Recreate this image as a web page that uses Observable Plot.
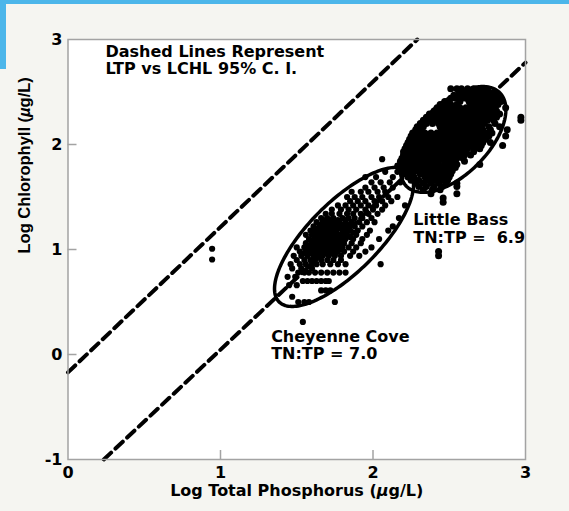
<!DOCTYPE html>
<html><head><meta charset="utf-8">
<script src="https://cdn.jsdelivr.net/npm/d3@7"></script>
<script src="https://cdn.jsdelivr.net/npm/@observablehq/plot@0.6"></script>
<style>
html,body{margin:0;padding:0;background:#f5f5f1;}
body{width:569px;height:511px;position:relative;overflow:hidden;}
#bt{position:absolute;left:0;top:0;width:569px;height:4px;background:#4cb6ea;}
#bl{position:absolute;left:0;top:0;width:6px;height:69px;background:#4cb6ea;}
#chart{position:absolute;left:0;top:0;}
#chart svg text{white-space:pre;}
</style></head><body>
<div id="chart"></div><div id="bt"></div><div id="bl"></div>
<script>
// ---- axis ticks / labels ----
const xTickMarks = [1, 2];
const xTickLabels = [0, 1, 2, 3];
const yTickMarks = [0, 1, 2];
const yTickLabels = [-1, 0, 1, 2, 3];
const xTitle = "Log Total Phosphorus (µg/L)";
const yTitle = "Log Chlorophyll (µg/L)";

// ---- 95% C.I. dashed lines (end points) ----
const ciUpperX = [0, 2.29];
const ciUpperY = [-0.17, 3.0];
const ciLowerX = [0.235, 3.0];
const ciLowerY = [-1.0, 2.78];

// ---- ellipses: center, semi-major and semi-minor vectors (data units) ----
const ellipseNames = ["Cheyenne Cove", "Little Bass"];
const ellipseCx = [1.81, 2.525];
const ellipseCy = [1.12, 2.048];
const ellipseAx = [0.426, 0.306];
const ellipseAy = [0.619, 0.445];
const ellipseBx = [0.162, 0.162];
const ellipseBy = [-0.236, -0.236];

// ---- annotations ----
const noteText = ["Dashed Lines Represent\nLTP vs LCHL 95% C. I.", "Little Bass\nTN:TP =  6.9", "Cheyenne Cove\nTN:TP = 7.0"];
const noteX = [0.246, 2.264, 1.332];
const noteY = [2.959, 1.350, 0.245];

// ---- scatter: isolated points ----
const otherPts = [[0.945, 1.007], [0.945, 0.905]];

// ---- Cheyenne Cove points, rows of [logChl, [logTP...]] ----
const cheyenneRows = [
  [0.31, [1.54]],
  [0.50, [1.51, 1.55, 1.58, 1.75]],
  [0.55, [1.47]],
  [0.61, [1.66, 1.69, 1.72]],
  [0.66, [1.45, 1.50]],
  [0.70, [1.54, 1.57, 1.60, 1.63, 1.66, 1.69, 1.71]],
  [0.74, [1.44, 1.49]],
  [0.78, [1.51, 1.55, 1.58, 1.62, 1.66, 1.70, 1.74, 1.78, 1.82]],
  [0.82, [1.47, 1.53, 1.60]],
  [0.86, [1.46, 1.52, 1.56, 1.60, 1.63, 1.67, 1.72, 1.77, 1.82, 2.05]],
  [0.90, [1.50, 1.55, 1.59, 1.62, 1.66, 1.70, 1.74, 1.79]],
  [0.94, [1.48, 1.53, 1.57, 1.61, 1.64, 1.67, 1.71, 1.75, 1.79, 1.85, 1.91]],
  [0.96, [1.54, 1.58, 1.65, 1.69, 1.72, 1.75]],
  [0.98, [1.52, 1.56, 1.60, 1.63, 1.67, 1.70, 1.73, 1.77, 1.81, 1.87, 1.95]],
  [1.00, [1.57, 1.61, 1.64, 1.70, 1.74, 1.78]],
  [1.02, [1.50, 1.55, 1.59, 1.62, 1.65, 1.68, 1.72, 1.76, 1.80, 1.84, 1.89, 1.99]],
  [1.04, [1.58, 1.61, 1.64, 1.67, 1.71, 1.75, 1.79]],
  [1.06, [1.56, 1.60, 1.63, 1.66, 1.70, 1.73, 1.77, 1.81, 1.86, 1.92]],
  [1.08, [1.60, 1.64, 1.67, 1.72, 1.76, 1.80]],
  [1.10, [1.58, 1.62, 1.65, 1.68, 1.71, 1.75, 1.78, 1.82, 1.87, 1.93, 2.04]],
  [1.12, [1.62, 1.66, 1.69, 1.72, 1.76, 1.80, 1.85]],
  [1.14, [1.56, 1.60, 1.64, 1.67, 1.70, 1.74, 1.78, 1.83, 1.89, 1.96]],
  [1.16, [1.62, 1.65, 1.68, 1.72, 1.75, 1.82, 1.87]],
  [1.18, [1.59, 1.62, 1.66, 1.69, 1.73, 1.76, 1.80, 1.85, 1.90, 1.98, 2.10]],
  [1.20, [1.63, 1.67, 1.71, 1.74, 1.78, 1.82]],
  [1.22, [1.61, 1.65, 1.69, 1.72, 1.76, 1.79, 1.84, 1.88, 1.93, 2.13]],
  [1.24, [1.66, 1.70, 1.73, 1.77, 1.81, 1.85]],
  [1.26, [1.63, 1.67, 1.71, 1.75, 1.78, 1.82, 1.86, 1.91, 1.96, 2.01]],
  [1.28, [1.69, 1.72, 1.77, 1.82]],
  [1.30, [1.66, 1.70, 1.74, 1.80, 1.84, 1.88, 1.93, 1.99, 2.17]],
  [1.34, [1.69, 1.73, 1.78, 1.83, 1.87, 1.92, 1.97, 2.03]],
  [1.38, [1.73, 1.79, 1.84, 1.89, 1.95, 2.00, 2.06]],
  [1.42, [1.77, 1.82, 1.87, 1.92, 1.97, 2.02, 2.08, 2.21]],
  [1.46, [1.85, 1.90, 1.95, 2.01, 2.06, 2.12]],
  [1.50, [1.83, 1.88, 1.93, 1.99, 2.04, 2.10, 2.16]],
  [1.55, [1.86, 1.92, 1.97, 2.03, 2.08]],
  [1.59, [1.95, 2.01, 2.07, 2.13]],
  [1.64, [1.99, 2.05, 2.11, 2.18]],
  [1.69, [1.95, 2.02, 2.13]],
  [1.74, [2.08, 2.16]],
  [1.80, [2.16, 2.20]],
  [1.86, [2.06]]
];

// ---- Little Bass points, rows of [logChl, [logTP...]] ----
const littleBassRows = [
  [2.53, [2.51, 2.55, 2.58, 2.62, 2.66, 2.70, 2.74]],
  [2.50, [2.57, 2.60, 2.64, 2.68, 2.72, 2.76, 2.80]],
  [2.47, [2.53, 2.56, 2.59, 2.63, 2.66, 2.70, 2.73, 2.77, 2.81]],
  [2.44, [2.51, 2.54, 2.58, 2.61, 2.65, 2.69, 2.72, 2.75, 2.79, 2.83]],
  [2.41, [2.47, 2.50, 2.57, 2.63, 2.67, 2.70, 2.74, 2.78, 2.81, 2.84]],
  [2.38, [2.44, 2.48, 2.51, 2.55, 2.64, 2.68, 2.71, 2.75, 2.79, 2.82]],
  [2.35, [2.42, 2.46, 2.49, 2.53, 2.57, 2.61, 2.65, 2.69, 2.72, 2.76, 2.80, 2.87]],
  [2.32, [2.40, 2.44, 2.47, 2.51, 2.55, 2.58, 2.62, 2.66, 2.70, 2.73, 2.77, 2.81]],
  [2.29, [2.37, 2.41, 2.45, 2.49, 2.53, 2.56, 2.60, 2.64, 2.67, 2.71, 2.75, 2.79, 2.83]],
  [2.26, [2.35, 2.39, 2.43, 2.47, 2.50, 2.54, 2.58, 2.62, 2.65, 2.69, 2.73, 2.77, 2.81, 2.97]],
  [2.23, [2.33, 2.37, 2.41, 2.45, 2.48, 2.52, 2.56, 2.60, 2.63, 2.67, 2.71, 2.75, 2.79, 2.97]],
  [2.20, [2.31, 2.35, 2.39, 2.43, 2.47, 2.50, 2.54, 2.58, 2.62, 2.65, 2.69, 2.73, 2.80]],
  [2.17, [2.29, 2.33, 2.44, 2.48, 2.52, 2.56, 2.60, 2.63, 2.67, 2.71, 2.76, 2.83]],
  [2.14, [2.28, 2.31, 2.45, 2.50, 2.54, 2.58, 2.61, 2.65, 2.69, 2.72, 2.77, 2.88]],
  [2.11, [2.26, 2.30, 2.34, 2.38, 2.42, 2.47, 2.51, 2.55, 2.59, 2.63, 2.67, 2.70, 2.74, 2.78]],
  [2.08, [2.25, 2.29, 2.33, 2.36, 2.40, 2.44, 2.48, 2.52, 2.56, 2.60, 2.64, 2.68, 2.72, 2.76, 2.87]],
  [2.05, [2.24, 2.27, 2.31, 2.35, 2.39, 2.43, 2.46, 2.50, 2.54, 2.58, 2.62, 2.66, 2.70, 2.74]],
  [2.02, [2.23, 2.26, 2.30, 2.34, 2.37, 2.41, 2.45, 2.49, 2.53, 2.57, 2.61, 2.64, 2.68, 2.72, 2.77]],
  [1.99, [2.22, 2.25, 2.29, 2.32, 2.36, 2.40, 2.44, 2.48, 2.52, 2.56, 2.59, 2.63, 2.67, 2.71, 2.85]],
  [1.96, [2.21, 2.24, 2.28, 2.31, 2.35, 2.39, 2.43, 2.47, 2.51, 2.54, 2.58, 2.62, 2.66, 2.70]],
  [1.93, [2.20, 2.23, 2.27, 2.30, 2.34, 2.38, 2.42, 2.46, 2.49, 2.53, 2.57, 2.61, 2.66]],
  [1.90, [2.20, 2.23, 2.26, 2.30, 2.33, 2.37, 2.41, 2.45, 2.48, 2.52, 2.56, 2.60, 2.64]],
  [1.87, [2.19, 2.22, 2.26, 2.29, 2.33, 2.36, 2.40, 2.44, 2.47, 2.51, 2.55, 2.59]],
  [1.84, [2.18, 2.21, 2.25, 2.28, 2.32, 2.36, 2.39, 2.43, 2.47, 2.50, 2.54, 2.60]],
  [1.81, [2.18, 2.22, 2.25, 2.29, 2.32, 2.36, 2.40, 2.43, 2.47, 2.51, 2.55, 2.70]],
  [1.78, [2.19, 2.23, 2.27, 2.30, 2.34, 2.38, 2.42, 2.46, 2.50, 2.54]],
  [1.75, [2.19, 2.24, 2.28, 2.32, 2.36, 2.40, 2.44, 2.48, 2.52]],
  [1.72, [2.21, 2.26, 2.31, 2.35, 2.39, 2.43, 2.47, 2.51]],
  [1.69, [2.23, 2.27, 2.34, 2.38, 2.42, 2.46, 2.50]],
  [1.66, [2.25, 2.30, 2.36, 2.40, 2.45, 2.49]],
  [1.63, [2.28, 2.33, 2.38, 2.43, 2.48, 2.55]],
  [1.60, [2.30, 2.35, 2.40, 2.45, 2.55]],
  [1.57, [2.33, 2.39, 2.44]],
  [1.53, [2.38, 2.55]],
  [1.49, [2.46]],
  [1.45, [2.46]],
  [0.98, [2.43]],
  [0.94, [2.43]]
];

// ---- build tables ----
const points = [];
for (const [y, xs] of cheyenneRows) for (const x of xs) points.push({x, y, lake: "Cheyenne Cove"});
for (const [y, xs] of littleBassRows) for (const x of xs) points.push({x, y, lake: "Little Bass"});
for (const [x, y] of otherPts) points.push({x, y, lake: "other"});

const ciLines = [];
ciUpperX.forEach((x, i) => ciLines.push({x, y: ciUpperY[i], line: "upper"}));
ciLowerX.forEach((x, i) => ciLines.push({x, y: ciLowerY[i], line: "lower"}));

const ellipsePts = [];
ellipseNames.forEach((name, k) => {
  for (let i = 0; i <= 180; i++) {
    const t = (i / 180) * 2 * Math.PI;
    ellipsePts.push({
      name,
      x: ellipseCx[k] + ellipseAx[k] * Math.cos(t) + ellipseBx[k] * Math.sin(t),
      y: ellipseCy[k] + ellipseAy[k] * Math.cos(t) + ellipseBy[k] * Math.sin(t)
    });
  }
});

const notes = noteText.map((text, i) => ({text, x: noteX[i], y: noteY[i]}));

const W = 569, H = 511, mL = 67.5, mR = 44, mT = 39, mB = 52;
const frameW = W - mL - mR, frameH = H - mT - mB;
const grey = "#a3a3a3";
const fmt = d => (d < 0 ? "-" + (-d) : String(d));

const chart = Plot.plot({
  width: W, height: H,
  marginLeft: mL, marginRight: mR, marginTop: mT, marginBottom: mB,
  style: {background: "transparent", fontFamily: "'DejaVu Sans'", fontWeight: "bold", fontSize: "16px", color: "#000", overflow: "visible"},
  x: {domain: [0, 3]},
  y: {domain: [-1, 3]},
  r: {type: "identity"},
  marks: [
    Plot.frame({fill: "white", stroke: "none"}),
    Plot.ruleX(xTickMarks, {x: d => d, stroke: grey, strokeWidth: 1.5, insetTop: frameH - 9}),
    Plot.ruleY(yTickMarks, {y: d => d, stroke: grey, strokeWidth: 1.5, insetRight: frameW - 9}),
    Plot.axisX(xTickLabels, {tickSize: 0, tickPadding: 7, tickFormat: fmt, label: null, fontSize: 16, fontWeight: "bold", fill: "#000"}),
    Plot.axisY(yTickLabels, {tickSize: 0, tickPadding: 5.5, tickFormat: fmt, label: null, fontSize: 16, fontWeight: "bold", fill: "#000"}),
    Plot.text([xTitle], {frameAnchor: "bottom", lineAnchor: "top", dy: 25, fontSize: 16, fontWeight: "bold", fill: "#000"}),
    Plot.text([yTitle], {frameAnchor: "left", rotate: -90, dx: -43.5, dy: 4, fontFamily: "'Liberation Sans', Arial", fontSize: 16.5, fontWeight: "bold", fill: "#000"}),
    Plot.line(ciLines, {x: "x", y: "y", z: "line", stroke: "#000", strokeWidth: 4, strokeDasharray: "10,6"}),
    Plot.dot(points, {x: "x", y: "y", r: d => (d.lake === "Little Bass" ? 3.5 : 3.1), fill: "#000", stroke: "none"}),
    Plot.line(ellipsePts, {x: "x", y: "y", z: "name", stroke: "#000", strokeWidth: 3.5, curve: "linear"}),
    Plot.text(notes, {x: "x", y: "y", text: "text", textAnchor: "start", lineAnchor: "top", lineHeight: 1.12, fontSize: 16, fontWeight: "bold", fill: "#000"}),
    Plot.frame({stroke: grey, strokeWidth: 1.5})
  ]
});

// italic µ
chart.querySelectorAll("text").forEach(t => {
  if (t.children.length === 0 && t.textContent.includes("µ")) {
    const [a, b] = t.textContent.split("µ");
    t.textContent = "";
    const mk = (s, it) => {
      const ts = document.createElementNS("http://www.w3.org/2000/svg", "tspan");
      ts.textContent = s;
      if (it) ts.setAttribute("font-style", "italic");
      t.appendChild(ts);
    };
    mk(a); mk("µ", true); mk(b);
  }
});

document.getElementById("chart").appendChild(chart);
</script>
</body></html>
